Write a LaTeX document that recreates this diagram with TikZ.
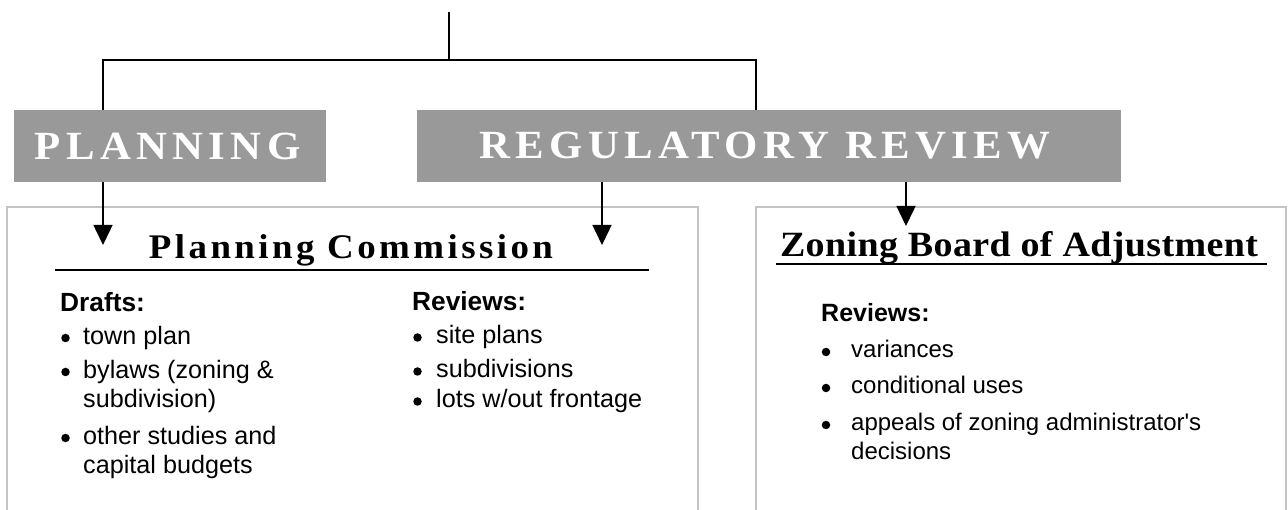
\documentclass[tikz,border=0pt]{standalone}
\usepackage{fontspec}
\setmainfont{Liberation Serif}
\newfontfamily\arialf{Liberation Sans}
\newfontfamily\spacedA[LetterSpace=12.5]{Liberation Serif}
\newfontfamily\spacedB[LetterSpace=9.3]{Liberation Serif}
\newfontfamily\spacedC[LetterSpace=1]{Liberation Serif}
\newcommand{\wider}[1]{\scalebox{1.07}[1]{#1}}
\usetikzlibrary{arrows.meta}
\definecolor{bandgray}{HTML}{999999}
\definecolor{framegray}{HTML}{C4C4C4}
\begin{document}
\begin{tikzpicture}[x=1pt,y=-1pt,
  band/.style={fill=bandgray, draw=none, minimum height=72pt, inner sep=0pt, text=white, font=\spacedA\bfseries\fontsize{40}{40}\selectfont},
  conn/.style={line width=1.5pt, black},
  arr/.style={conn, -{Triangle[width=19pt,length=20pt]}},
  frame/.style={draw=framegray, line width=1.6pt},
  title/.style={anchor=base, inner sep=0pt},
  headL/.style={anchor=base west, inner sep=0pt, font=\arialf\bfseries\fontsize{26.3}{26}\selectfont},
  headR/.style={anchor=base west, inner sep=0pt, font=\arialf\bfseries\fontsize{25}{25}\selectfont},
  itemL/.style={anchor=base west, inner sep=0pt, font=\arialf\fontsize{25.2}{25}\selectfont},
  itemR/.style={anchor=base west, inner sep=0pt, font=\arialf\fontsize{24}{24}\selectfont},
  dot/.style={circle, fill=black, draw=none, minimum size=8.5pt, inner sep=0pt},
]
\useasboundingbox (0,0) rectangle (1288,510);
% frames
\draw[frame] (7,510) -- (7,207) -- (698,207) -- (698,510);
\draw[frame] (756,510) -- (756,207) -- (1286,207) -- (1286,510);
% bands
\node[band, minimum width=312pt] (plan) at (170,146) {\wider{PLANNING}\hspace*{5pt}};
\node[band, minimum width=704pt] (reg) at (769,146) {\wider{REGULATORY REVIEW}\hspace*{8pt}};
% connectors
\coordinate (top) at (449,12);
\coordinate (jM) at (449,60);
\coordinate (jL) at (103,60);
\coordinate (jR) at (756,60);
\draw[conn] (top) -- (jM);
\draw[conn] (jL |- plan.north) -- (jL) -- (jR) -- (jR |- reg.north);
\coordinate (tPC1) at (103,245);
\coordinate (tPC2) at (602,245);
\coordinate (tZBA) at (906,226);
\draw[arr] (plan.south -| tPC1) -- (tPC1);
\draw[arr] (reg.south -| tPC2) -- (tPC2);
\draw[arr] (reg.south -| tZBA) -- (tZBA);
% titles
\node[title, font=\spacedB\bfseries\fontsize{34.5}{35}\selectfont] (pc) at (351,259) {\wider{Planning Commission}};
\node[title, font=\spacedC\bfseries\fontsize{35.5}{36}\selectfont] (zba) at (1019,257) {\wider{Zoning Board of Adjustment}};
\coordinate (ulA) at (55,270);
\coordinate (ulB) at (649,270);
\coordinate (ulC) at (776,264);
\coordinate (ulD) at (1267,264);
\draw[line width=2pt] (ulA) -- (ulB);
\draw[line width=2pt] (ulC) -- (ulD);
% left column
\node[headL] (drafts) at (60,312) {Drafts:};
\node[dot] (b1) at (65.5,338) {};
\node[itemL] (d1) at (83,345) {town plan};
\node[dot] (b2) at (65.5,372) {};
\node[itemL] (d2) at (83,379) {bylaws (zoning \&};
\node[itemL] (d2b) at (83,408) {subdivision)};
\node[dot] (b3) at (65.5,438) {};
\node[itemL] (d3) at (83,445) {other studies and};
\node[itemL] (d3b) at (83,473) {capital budgets};
% middle column
\node[headL] (rev1) at (412,311) {Reviews:};
\node[dot] (c1) at (417.5,337.5) {};
\node[itemL] (r1) at (436,344) {site plans};
\node[dot] (c2) at (417.5,371.5) {};
\node[itemL] (r2) at (436,378) {subdivisions};
\node[dot] (c3) at (417.5,401.5) {};
\node[itemL] (r3) at (436,408) {lots w/out frontage};
% right box
\node[headR] (rev2) at (821,322) {Reviews:};
\node[dot] (e1) at (826,352) {};
\node[itemR] (z1) at (851,358) {variances};
\node[dot] (e2) at (826,388) {};
\node[itemR] (z2) at (851,394) {conditional uses};
\node[dot] (e3) at (826,425) {};
\node[itemR] (z3) at (851,431) {appeals of zoning administrator\textquotesingle s};
\node[itemR] (z3b) at (851,459) {decisions};
\end{tikzpicture}
\end{document}
